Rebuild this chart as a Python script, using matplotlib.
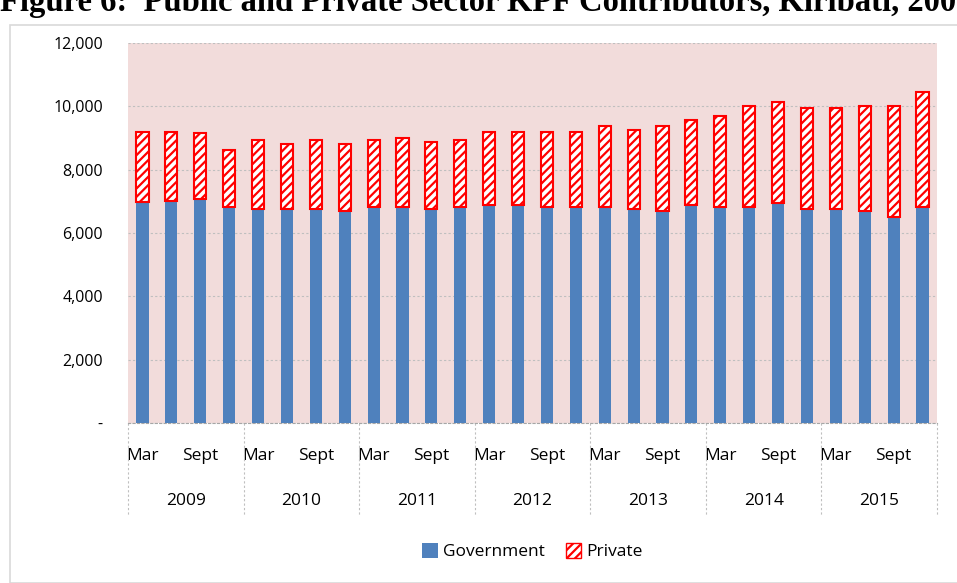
import numpy as np
import matplotlib
matplotlib.use("Agg")
import matplotlib.pyplot as plt
from matplotlib.patches import Rectangle, Patch

# %% Data
years = ["2009", "2010", "2011", "2012", "2013", "2014", "2015"]
quarters = ["Mar", "", "Sept", ""]
government = [6990, 7000, 7070, 6810, 6750, 6750, 6750, 6700,
              6810, 6810, 6750, 6810, 6880, 6880, 6810, 6810,
              6810, 6750, 6700, 6880, 6810, 6810, 6940, 6750,
              6750, 6700, 6520, 6810]
total = [9200, 9200, 9150, 8620, 8940, 8810, 8940, 8810,
         8940, 9010, 8880, 8950, 9200, 9200, 9200, 9200,
         9380, 9250, 9380, 9570, 9700, 10010, 10130, 9940,
         9940, 10010, 10010, 10440]
private = [t - g for t, g in zip(total, government)]

# %% Figure
plt.rcParams['hatch.color'] = '#FF0000'
plt.rcParams['hatch.linewidth'] = 1.6
plt.rcParams['font.family'] = ['Open Sans', 'DejaVu Sans']

fig = plt.figure(figsize=(9.57, 5.83), dpi=100)
fig.patches.append(Rectangle((10 / 957, 0), 1.0, 558 / 583, transform=fig.transFigure,
                             fill=False, edgecolor='#D9D9D9', linewidth=1.2))
# title is cut off at the top edge, as in the source scan
fig.text(0.0, 0.981, "Figure 6:  Public and Private Sector KPF Contributors, Kiribati, 2009-2015",
         fontsize=23.5, fontweight='bold', family='Liberation Serif', va='baseline', ha='left')

ax = fig.add_axes([128 / 957, 160 / 583, 809 / 957, 380 / 583])
ax.set_facecolor('#F2DCDB')

x = np.arange(len(government))
ax.bar(x, government, width=0.42, color='#4F81BD', label='Government', zorder=3)
ax.bar(x, private, bottom=government, width=0.42, color='white', edgecolor='#FF0000',
       hatch='////', linewidth=1.5, label='Private', zorder=3)

ax.set_xlim(-0.5, len(x) - 0.5)
ax.set_ylim(0, 12000)
ax.set_yticks(range(0, 12001, 2000))
ax.set_yticklabels(['-'] + [f"{v:,}" for v in range(2000, 12001, 2000)], fontsize=11.5)
ax.grid(axis='y', color='#BFBFBF', linestyle=(0, (2, 2)), linewidth=0.8, zorder=1)
for s in ['top', 'right', 'left']:
    ax.spines[s].set_visible(False)
ax.spines['bottom'].set_color('#A6A6A6')
ax.spines['bottom'].set_linestyle((0, (2, 2)))
ax.tick_params(axis='y', length=0, pad=18)
ax.tick_params(axis='x', length=0)
ax.set_xticks(x)
ax.set_xticklabels([quarters[i % 4] for i in x], fontsize=12.5)
ax.tick_params(axis='x', pad=18)

# year labels and separators
for k, yr in enumerate(years):
    ax.text(4 * k + 1.5, -0.205, yr, transform=ax.get_xaxis_transform(),
            ha='center', va='center', fontsize=12.5)
for k in range(len(years) + 1):
    ax.plot([4 * k - 0.5, 4 * k - 0.5], [0, -0.245], transform=ax.get_xaxis_transform(),
            color='#BFBFBF', linestyle=(0, (2, 2)), linewidth=0.8, clip_on=False)

handles = [Patch(facecolor='#4F81BD', label='Government'),
           Patch(facecolor='white', edgecolor='#FF0000', hatch='////', label='Private')]
ax.legend(handles=handles, loc='upper center', bbox_to_anchor=(0.5, -0.275), ncol=2,
          frameon=False, fontsize=12.5, handlelength=0.9, handleheight=0.9,
          handletextpad=0.3, columnspacing=1.2)

fig.savefig('out.png', dpi=100, facecolor='white')
